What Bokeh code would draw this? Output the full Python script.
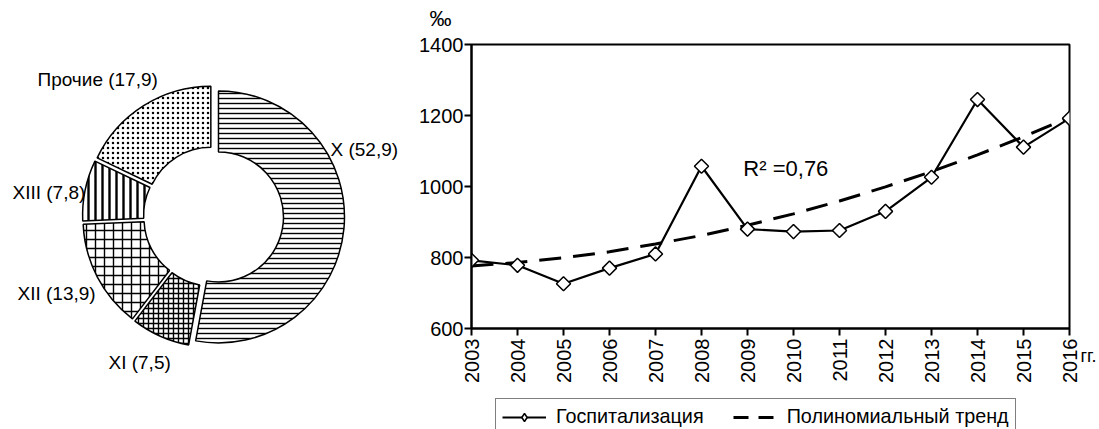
import numpy as np
from bokeh.plotting import figure
from bokeh.models import (ColumnDataSource, Range1d, FixedTicker, Label, Legend, LegendItem, Plot)
from bokeh.layouts import row, column
from bokeh.embed import file_html
from bokeh.resources import INLINE

# ---------------- data ----------------
sections = ["X", "XI", "XII", "XIII", "Прочие"]
shares = [52.9, 7.5, 13.9, 7.8, 17.9]
share_labels = ["X (52,9)", "XI (7,5)", "XII (13,9)", "XIII (7,8)", "Прочие (17,9)"]

years = [2003, 2004, 2005, 2006, 2007, 2008, 2009, 2010, 2011, 2012, 2013, 2014, 2015, 2016]
hospitalization = [792, 778, 726, 770, 810, 1057, 880, 873, 876, 930, 1026, 1245, 1111, 1192]
trend = [776, 786, 799, 816, 838, 862, 891, 923, 959, 999, 1042, 1089, 1140, 1195]
y_ticks = [600, 800, 1000, 1200, 1400]
r2_text = "R\u00b2 =0,76"
y_unit = "‰"
x_unit = "гг."
legend_labels = ["Госпитализация", "Полиномиальный тренд"]

FONT = "Liberation Sans"
HAS_FRAME_ALIGN = "frame_align" in Plot.properties()


def bare(width, height):
    f = figure(width=width, height=height, x_range=Range1d(0, width), y_range=Range1d(0, height),
               output_backend="svg", toolbar_location=None, x_axis_location=None,
               y_axis_location=None, min_border=0)
    f.outline_line_color = None
    f.xgrid.visible = False
    f.ygrid.visible = False
    if HAS_FRAME_ALIGN:
        f.frame_align = False
    return f


# ---------------- donut ----------------
patterns = ["horizontal_line", "cross", "cross", "vertical_line", "dot"]
hscales = [5, 5, 9, 7, 5]
hweights = [1.4, 1.4, 1.4, 2.4, 1.0]

frac = np.array(shares) / sum(shares)
cum = np.concatenate([[0.0], np.cumsum(frac)])
start = np.pi / 2 - 2 * np.pi * cum[:-1]
end = np.pi / 2 - 2 * np.pi * cum[1:]
mid = (start + end) / 2
EXPLODE = 5
CX, CY = 213, 213
src = ColumnDataSource(dict(
    x=CX + EXPLODE * np.cos(mid), y=CY + EXPLODE * np.sin(mid),
    start=start, end=end, pattern=patterns, scale=hscales, weight=hweights,
))

d = bare(415, 429)
d.annular_wedge(x="x", y="y", inner_radius=65, outer_radius=126, start_angle="start", end_angle="end",
                direction="clock", fill_color="white", line_color="black", line_width=1.5,
                hatch_pattern="pattern", hatch_scale="scale", hatch_weight="weight", hatch_color="black",
                source=src)

label_pos = [(330, 280), (108, 67), (17, 136), (12, 237), (37, 350)]
for txt, (lx, ly) in zip(share_labels, label_pos):
    d.add_layout(Label(x=lx, y=ly, text=txt, text_font=FONT, text_font_size="19px",
                       text_baseline="middle", text_align="left", text_color="black"))

# ---------------- unit strip above the line chart ----------------
top = bare(665, 30)
top.add_layout(Label(x=14, y=12.5, text=y_unit, text_font=FONT, text_font_size="22px",
                     text_baseline="middle", text_color="black"))

# ---------------- line chart ----------------
p = figure(width=665, height=364, x_range=Range1d(2003, 2016), y_range=Range1d(600, 1400),
           output_backend="svg", toolbar_location=None,
           min_border_left=56, min_border_right=11, min_border_top=14, min_border_bottom=66)
if HAS_FRAME_ALIGN:
    p.frame_align = False
p.xgrid.visible = False
p.ygrid.visible = False
p.outline_line_color = "black"
p.outline_line_width = 2

p.xaxis.ticker = FixedTicker(ticks=years)
p.yaxis.ticker = FixedTicker(ticks=y_ticks)
p.xaxis.major_label_orientation = np.pi / 2
for ax in (p.xaxis, p.yaxis):
    ax.axis_line_width = 2
    ax.axis_line_color = "black"
    ax.major_tick_line_width = 2
    ax.major_tick_line_color = "black"
    ax.major_tick_in = 0
    ax.major_tick_out = 7
    ax.minor_tick_line_color = None
    ax.major_label_text_font = FONT
    ax.major_label_text_font_size = "20px"
    ax.major_label_text_color = "black"
p.xaxis.major_label_standoff = 3
p.yaxis.major_label_standoff = 1

LINE = dict(line_color="black", line_width=2.2)
MARK = dict(marker="square", angle=np.pi / 4, size=10, fill_color="white", line_color="black", line_width=1.5)

p.line(years, trend, line_color="black", line_width=3, line_dash="22 12")
p.line(years, hospitalization, **LINE)
p.scatter(years, hospitalization, **MARK)

p.add_layout(Label(x=2008.91, y=1050, text=r2_text, text_font=FONT, text_font_size="22px",
                   text_baseline="middle", text_color="black"))

# ---------------- legend strip (its glyphs reuse the series, lying outside this strip's view) ----------------
lg = bare(665, 35)
l1 = lg.line(years, hospitalization, **LINE)
m1 = lg.scatter(years, hospitalization, marker="diamond", size=14, fill_color="white",
                line_color="black", line_width=1.5)
l2 = lg.line(years, trend, line_color="black", line_width=3, line_dash="15 10")
legend = Legend(items=[LegendItem(label=legend_labels[0], renderers=[l1, m1]),
                       LegendItem(label=legend_labels[1], renderers=[l2])],
                location=(80, -6), orientation="horizontal",
                border_line_color="black", border_line_width=1.5, background_fill_color="white",
                label_text_font=FONT, label_text_font_size="19.8px", label_text_color="black",
                glyph_width=44, glyph_height=20, label_standoff=10, spacing=29, padding=6,
                margin=0, label_height=20)
lg.add_layout(legend)

# ---------------- "гг." strip ----------------
gg = bare(19, 429)
gg.add_layout(Label(x=0, y=73.5, text=x_unit, text_font=FONT, text_font_size="18px",
                    text_baseline="middle", text_color="black"))

layout = row(d, column(top, p, lg), gg)
open("out.html", "w").write(file_html(layout, INLINE))
